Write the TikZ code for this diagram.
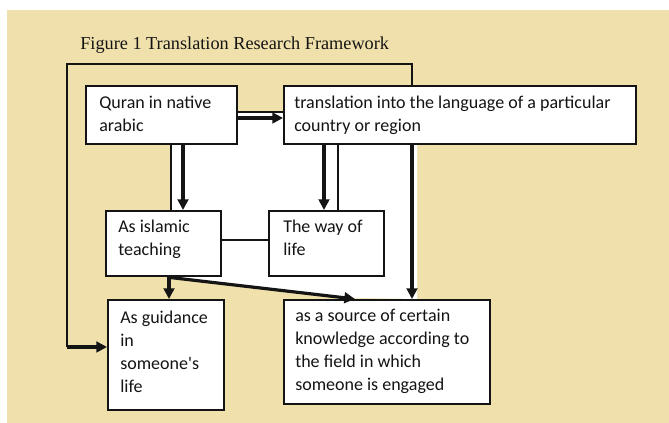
\documentclass[tikz,border=0pt]{standalone}
\usepackage{fontspec}
\setsansfont{Carlito}
\newfontfamily\titlefont{Liberation Serif}
\usetikzlibrary{calc,arrows.meta}
\definecolor{paper}{RGB}{240,225,172}
\definecolor{ink}{RGB}{20,20,20}
\tikzset{
  frame/.style={draw=ink, line width=1.2pt, fill=white, rectangle, inner sep=0pt, anchor=north west},
  label/.style={anchor=north west, inner sep=0pt, align=left, text=ink,
    font=\sffamily\fontsize{13.5pt}{17.2pt}\selectfont},
  thinline/.style={draw=ink, line width=1pt},
  thickarrow/.style={draw=ink, line width=2.4pt, -{Triangle[length=8pt,width=8pt]}},
}
\begin{document}
\begin{tikzpicture}[x=0.75pt,y=-0.75pt]
  % page and background panel
  \useasboundingbox (0,0) rectangle (669,423);
  \fill[white] (0,0) rectangle (669,423);
  \fill[paper] (7,10) rectangle (669,423);
  \fill[white] (170,112) -- (417,112) -- (417,299) -- (355,298) -- (170,276) -- cycle;

  % title
  \node[anchor=base west, inner sep=0pt, text=ink, font=\titlefont\fontsize{13.7pt}{16pt}\selectfont]
    (title) at (80,50) {Figure 1 Translation Research Framework};

  % boxes
  \node[frame, minimum width=113.25pt, minimum height=43.5pt] (quran)   at (85,85)  {};
  \node[frame, minimum width=264pt,    minimum height=43.5pt] (trans)   at (283,85) {};
  \node[frame, minimum width=86.25pt,  minimum height=48.75pt] (islamic) at (105,210) {};
  \node[frame, minimum width=86.25pt,  minimum height=48.75pt] (way)     at (268,210) {};
  \node[frame, minimum width=87pt,     minimum height=82.5pt] (guide)   at (107,299) {};
  \node[frame, minimum width=154.5pt,  minimum height=78pt]   (source)  at (283,299) {};

  % box texts (first line carries a strut, so the top sits 16px above its baseline)
  \node[label] (quran-t)   at ($(quran.north west)+(14,7)$)   {\strut Quran in native\\arabic};
  \node[label] (trans-t)   at ($(trans.north west)+(11,7)$)   {\strut translation into the language of a particular\\country or region};
  \node[label] (islamic-t) at ($(islamic.north west)+(13,6)$) {\strut As islamic\\teaching};
  \node[label] (way-t)     at ($(way.north west)+(15,6)$)     {\strut The way of\\life};
  \node[label] (guide-t)   at ($(guide.north west)+(13,8)$)   {\strut As guidance\\in\\someone\textquotesingle s\\life};
  \node[label] (source-t)  at ($(source.north west)+(12,6)$)  {\strut as a source of certain\\knowledge according to\\the field in which\\someone is engaged};

  % Quran -> translation
  \draw[thinline] ($(quran.north east)+(0,27)$) -- ($(trans.north west)+(0,27)$);
  \draw[thickarrow] ($(quran.north east)+(0,33)$) -- ($(trans.north west)+(0,33)$);

  % Quran -> islamic teaching
  \draw[thinline] ($(quran.south west)+(86,0)$) -- ($(islamic.north west)+(66,0)$);
  \draw[thickarrow] ($(quran.south west)+(98,0)$) -- ($(islamic.north west)+(78,0)$);

  % translation -> way of life
  \draw[thickarrow] ($(trans.south west)+(41,0)$) -- ($(way.north west)+(56,0)$);
  \draw[thinline] ($(trans.south west)+(55,0)$) -- ($(way.north west)+(70,0)$);

  % translation -> source of knowledge
  \draw[thickarrow] ($(trans.south west)+(129,0)$) -- ($(source.north west)+(129,0)$);

  % islamic teaching -- way of life
  \draw[thinline] ($(islamic.north east)+(0,30)$) -- ($(way.north west)+(0,30)$);

  % islamic teaching -> guidance, -> source
  \draw[thickarrow] ($(islamic.south west)+(64,0)$) -- ($(guide.north west)+(62,0)$);
  \draw[thickarrow] ($(islamic.south west)+(66,1)$) -- ($(source.north west)+(72,0)$);

  % feedback loop from translation to guidance
  \coordinate (fbtop) at (67,64);
  \coordinate (fbbottom) at (67,347);
  \draw[thinline] ($(trans.north west)+(129,0)$) |- (fbtop) -- (fbbottom);
  \draw[thickarrow] (fbbottom) -- (guide.west |- fbbottom);
\end{tikzpicture}
\end{document}
